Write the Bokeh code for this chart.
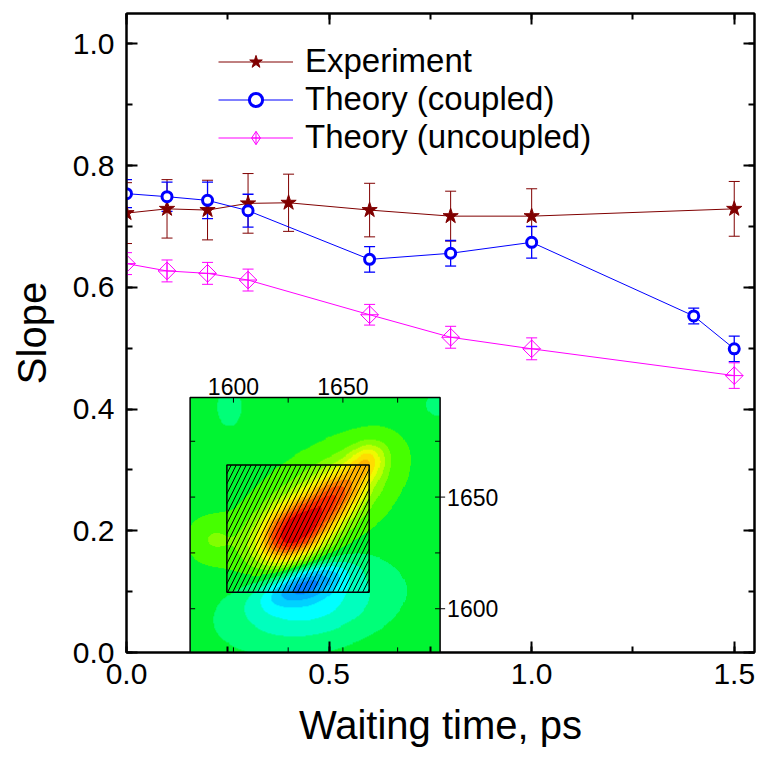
import numpy as np
from bokeh.plotting import figure
from bokeh.models import (Range1d, LinearAxis, SingleIntervalTicker,
                          Whisker, TeeHead, ColumnDataSource, Legend, LegendItem,
                          LinearColorMapper, PrintfTickFormatter)
from bokeh.embed import file_html
from bokeh.resources import INLINE
from bokeh.core.properties import value

# ---------------- data ----------------
exp_t = [0.0, 0.1, 0.2, 0.3, 0.4, 0.6, 0.8, 1.0, 1.5]
exp_s = [0.722, 0.729, 0.727, 0.738, 0.739, 0.727, 0.717, 0.717, 0.729]
exp_e = [0.050, 0.048, 0.049, 0.049, 0.047, 0.044, 0.041, 0.045, 0.045]

cpl_t = [0.0, 0.1, 0.2, 0.3, 0.6, 0.8, 1.0, 1.4, 1.5]
cpl_s = [0.754, 0.749, 0.743, 0.726, 0.646, 0.656, 0.674, 0.553, 0.499]
cpl_e = [0.023, 0.024, 0.030, 0.027, 0.021, 0.021, 0.026, 0.013, 0.021]

unc_t = [0.0, 0.1, 0.2, 0.3, 0.6, 0.8, 1.0, 1.5]
unc_s = [0.639, 0.627, 0.623, 0.612, 0.555, 0.518, 0.499, 0.455]
unc_e = [0.018, 0.018, 0.018, 0.018, 0.017, 0.018, 0.018, 0.021]

labels = ["Experiment", "Theory (coupled)", "Theory (uncoupled)"]

# inset (2D spectrum): placement in main-data coordinates and its own axis span
inset_main_x = [0.157, 0.774]
inset_main_y = [0.0, 0.419]
inset_u = [1580.2, 1694.4]
inset_v = [1580.4, 1694.6]
inset_ticks = [1600, 1625, 1650, 1675]
inset_labels = [1600, 1650]
hatch_u = [1597, 1662]
hatch_v = [1607.4, 1664.4]

# approximate peaks of the 2D spectrum
peak_u = [1627, 1647, 1661, 1638, 1633, 1634, 1590, 1598, 1693]
peak_v = [1634, 1651, 1666, 1646, 1611, 1602, 1631, 1690, 1691]
peak_amp = [0.90, 0.55, 0.32, 0.22, -0.40, -0.30, 0.13, -0.13, -0.13]
peak_sl = [12, 12, 6, 28, 13, 24, 8, 6, 4]
peak_ss = [8, 7, 5, 14, 5, 12, 7, 4, 4]
peak_ang = [35, 40, 45, 35, 18, 10, 0, 90, 90]

level_colors = ["#0050ff", "#0080ff", "#00aaff", "#00d2ff", "#00ffff", "#00ffbe",
                "#00ff78", "#00f532", "#46ff00", "#82ff00", "#beff00", "#f0fa00",
                "#ffdc00", "#ffb400", "#ff8200", "#ff5000", "#ff2800", "#e60000"]

FONT = "Liberation Sans"

# ---------------- figure ----------------
XMAX, YMAX = 1.55, 1.05
p = figure(width=757, height=749, x_range=Range1d(0, XMAX), y_range=Range1d(0, YMAX),
           output_backend="svg", toolbar_location=None,
           min_border_left=126, min_border_right=3, min_border_top=13, min_border_bottom=95)
p.xgrid.visible = False
p.ygrid.visible = False
p.outline_line_color = "black"
p.outline_line_width = 2
p.background_fill_color = "white"
p.border_fill_color = "white"

# extra ranges so that the inset lives in its own coordinates
su = (inset_u[1] - inset_u[0]) / (inset_main_x[1] - inset_main_x[0])
sv = (inset_v[1] - inset_v[0]) / (inset_main_y[1] - inset_main_y[0])
p.extra_x_ranges = {"ix": Range1d(inset_u[0] - inset_main_x[0] * su,
                                  inset_u[0] + (XMAX - inset_main_x[0]) * su)}
p.extra_y_ranges = {"iy": Range1d(inset_v[0] - inset_main_y[0] * sv,
                                  inset_v[0] + (YMAX - inset_main_y[0]) * sv)}

# 2D field
U = np.linspace(inset_u[0], inset_u[1], 240)
V = np.linspace(inset_v[0], inset_v[1], 240)
UU, VV = np.meshgrid(U, V)
Z = np.zeros_like(UU)
for u0, v0, a, sl, ss, ang in zip(peak_u, peak_v, peak_amp, peak_sl, peak_ss, peak_ang):
    th = np.deg2rad(ang)
    du, dv = UU - u0, VV - v0
    along = du * np.cos(th) + dv * np.sin(th)
    across = -du * np.sin(th) + dv * np.cos(th)
    Z += a * np.exp(-0.5 * ((along / sl) ** 2 + (across / ss) ** 2))

mapper = LinearColorMapper(palette=level_colors, low=-0.75, high=1.05)
p.image(image=[Z], x=inset_u[0], y=inset_v[0], dw=inset_u[1] - inset_u[0],
        dh=inset_v[1] - inset_v[0], color_mapper=mapper,
        x_range_name="ix", y_range_name="iy", level="image")

# hatched rectangle
p.quad(left=[hatch_u[0]], right=[hatch_u[1]], bottom=[hatch_v[0]], top=[hatch_v[1]],
       fill_color=None, hatch_pattern="/", hatch_color="black", hatch_scale=10,
       hatch_weight=1, line_color="black", line_width=1.5,
       x_range_name="ix", y_range_name="iy")
# inset frame
p.quad(left=[inset_u[0]], right=[inset_u[1]], bottom=[inset_v[0]], top=[inset_v[1]],
       fill_color=None, line_color="black", line_width=1.5,
       x_range_name="ix", y_range_name="iy")

# inset ticks
TL = 2.3
tk = np.array(inset_ticks, dtype=float)
n = len(tk)
p.segment(x0=tk, y0=[inset_v[1]] * n, x1=tk, y1=[inset_v[1] - TL] * n,
          line_color="black", line_width=1, x_range_name="ix", y_range_name="iy")
p.segment(x0=tk, y0=[inset_v[0]] * n, x1=tk, y1=[inset_v[0] + TL] * n,
          line_color="black", line_width=1, x_range_name="ix", y_range_name="iy")
p.segment(x0=[inset_u[0]] * n, y0=tk, x1=[inset_u[0] + TL] * n, y1=tk,
          line_color="black", line_width=1, x_range_name="ix", y_range_name="iy")
p.segment(x0=[inset_u[1] - TL] * n, y0=tk, x1=[inset_u[1]] * n, y1=tk,
          line_color="black", line_width=1, x_range_name="ix", y_range_name="iy")
lk = np.array(inset_labels, dtype=float)
m = len(lk)
p.segment(x0=[inset_u[1]] * m, y0=lk, x1=[inset_u[1] + TL] * m, y1=lk,
          line_color="black", line_width=1, x_range_name="ix", y_range_name="iy")

p.text(x=lk, y=[inset_v[1]] * m, text=[str(int(v)) for v in inset_labels],
       text_font=value(FONT), text_font_size="23px", text_align="center",
       text_baseline="alphabetic", y_offset=-11, text_color="black",
       x_range_name="ix", y_range_name="iy")
p.text(x=[inset_u[1]] * m, y=lk, text=[str(int(v)) for v in inset_labels],
       text_font=value(FONT), text_font_size="23px", text_align="left",
       text_baseline="middle", x_offset=7, text_color="black",
       x_range_name="ix", y_range_name="iy")

# ---------------- series ----------------
def errsrc(t, s, e):
    return ColumnDataSource(dict(t=t, lo=[a - b for a, b in zip(s, e)],
                                 hi=[a + b for a, b in zip(s, e)]))

for (t, s, e, col, lw, hs) in [(exp_t, exp_s, exp_e, "#800000", 1, 11),
                               (cpl_t, cpl_s, cpl_e, "#0000ff", 1.3, 11),
                               (unc_t, unc_s, unc_e, "#ff00ff", 1, 11)]:
    w = Whisker(source=errsrc(t, s, e), base="t", upper="hi", lower="lo",
                line_color=col, line_width=lw, level="underlay",
                upper_head=TeeHead(size=hs, line_color=col, line_width=lw),
                lower_head=TeeHead(size=hs, line_color=col, line_width=lw))
    p.add_layout(w)

l1 = p.line(exp_t, exp_s, line_color="#800000", line_width=1)
s1 = p.scatter(exp_t, exp_s, marker="star", size=16, fill_color="#800000",
               line_color="#800000")
l2 = p.line(cpl_t, cpl_s, line_color="#0000ff", line_width=1)
s2 = p.scatter(cpl_t, cpl_s, marker="circle", size=10, fill_color="white",
               line_color="#0000ff", line_width=3)
l3 = p.line(unc_t, unc_s, line_color="#ff00ff", line_width=1)
s3 = p.scatter(unc_t, unc_s, marker="square_x", size=12.5, angle=np.pi / 4,
               fill_color=None, line_color="#ff00ff", line_width=1)
# legend-only glyph (the legend does not rotate markers); its single point lies
# far outside the visible ranges so it is never drawn in the plot area
s3_leg = p.scatter(x=[XMAX * 10], y=[YMAX * 10], marker="diamond_cross", size=19,
                   fill_color=None, line_color="#ff00ff", line_width=1)

legend = Legend(items=[LegendItem(label=labels[0], renderers=[l1, s1]),
                       LegendItem(label=labels[1], renderers=[l2, s2]),
                       LegendItem(label=labels[2], renderers=[l3, s3_leg])],
                location=(92, 496), glyph_width=75, glyph_height=33, label_height=37,
                label_text_font=FONT, label_text_font_size="33px", label_standoff=12,
                label_text_color="black",
                spacing=0, padding=0, margin=0, border_line_color=None,
                background_fill_alpha=0)
p.add_layout(legend)

# ---------------- axes ----------------
def style(ax, show):
    ax.axis_line_width = 2
    ax.axis_line_color = "black"
    ax.major_tick_in = 11
    ax.major_tick_out = 0
    ax.minor_tick_in = 6
    ax.minor_tick_out = 0
    ax.major_tick_line_width = 2
    ax.minor_tick_line_width = 2
    ax.major_tick_line_color = "black"
    ax.minor_tick_line_color = "black"
    if show:
        ax.major_label_text_font = FONT
        ax.major_label_text_font_size = "30px"
        ax.major_label_text_color = "black"
        ax.axis_label_text_font = FONT
        ax.axis_label_text_font_size = "40px"
        ax.axis_label_text_font_style = "normal"
        ax.axis_label_text_color = "black"
        ax.formatter = PrintfTickFormatter(format="%.1f")
    else:
        ax.major_label_text_font_size = "0px"
        ax.major_label_text_alpha = 0
        ax.major_label_standoff = 0

xa = p.xaxis[0]
xa.ticker = SingleIntervalTicker(interval=0.5, num_minor_ticks=2)
xa.axis_label = "Waiting time, ps"
style(xa, True)
xa.major_label_standoff = 11
xa.axis_label_standoff = 16

ya = p.yaxis[0]
ya.ticker = SingleIntervalTicker(interval=0.2, num_minor_ticks=2)
ya.axis_label = "Slope"
style(ya, True)
ya.major_label_standoff = 12
ya.axis_label_standoff = 16

top = LinearAxis(ticker=SingleIntervalTicker(interval=0.5, num_minor_ticks=2))
style(top, False)
p.add_layout(top, "above")
right = LinearAxis(ticker=SingleIntervalTicker(interval=0.2, num_minor_ticks=2))
style(right, False)
p.add_layout(right, "right")

open("out.html", "w").write(file_html(p, INLINE))
